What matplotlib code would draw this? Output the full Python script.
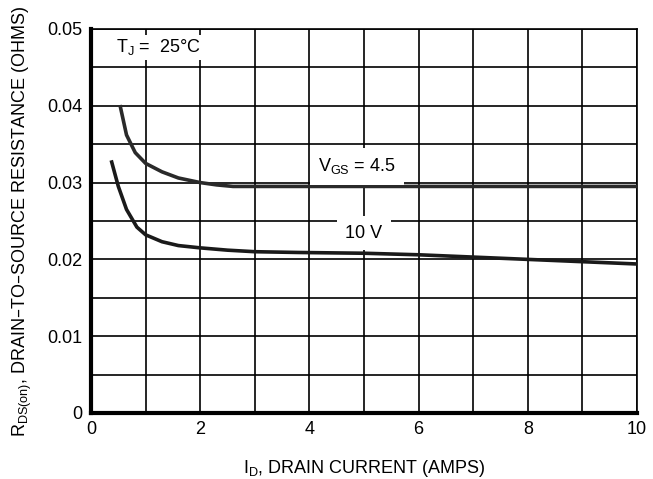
import matplotlib
matplotlib.use('Agg')
import matplotlib.pyplot as plt

plt.rcParams['font.family'] = ['Liberation Sans Narrow', 'Liberation Sans', 'DejaVu Sans']
plt.rcParams['mathtext.default'] = 'regular'

# VGS = 4.5 V curve
id_45 = [0.53, 0.65, 0.81, 1.0, 1.3, 1.6, 2.0, 2.3, 2.6, 3.0, 4.0, 6.0, 8.0, 10.0]
r_45 = [0.0401, 0.0362, 0.0339, 0.0325, 0.0314, 0.0306, 0.0300, 0.0297, 0.0295, 0.0295,
        0.0295, 0.0295, 0.0295, 0.0295]
# VGS = 10 V curve
id_10 = [0.37, 0.5, 0.65, 0.84, 1.0, 1.3, 1.6, 2.0, 2.5, 3.0, 3.8, 5.0, 6.0, 7.0, 8.0, 9.0, 10.0]
r_10 = [0.0329, 0.0295, 0.0265, 0.0242, 0.0232, 0.0223, 0.0218, 0.0215, 0.0212, 0.0210,
        0.0209, 0.0208, 0.0206, 0.0203, 0.0200, 0.0197, 0.0194]

fig = plt.figure(figsize=(6.53, 4.79), dpi=100)
ax = fig.add_axes([0.1394, 0.1378, 0.8361, 0.8017])

ax.plot(id_45, r_45, color='#2a2a2a', lw=2.6, solid_capstyle='butt', zorder=3)
ax.plot(id_10, r_10, color='#1a1a1a', lw=2.6, solid_capstyle='butt', zorder=3)

ax.set_xlim(0, 10)
ax.set_ylim(0, 0.05)
ax.set_xticks([0, 2, 4, 6, 8, 10])
ax.set_yticks([0, 0.01, 0.02, 0.03, 0.04, 0.05])
ax.set_yticklabels(['0', '0.01', '0.02', '0.03', '0.04', '0.05'])
ax.set_xticks(range(0, 11), minor=True)
ax.set_yticks([0.005 * i for i in range(11)], minor=True)
ax.grid(which='both', color='black', lw=1.2)
ax.tick_params(which='both', length=0, labelsize=13, pad=6)
ax.set_axisbelow(True)

for s in ['top', 'right']:
    ax.spines[s].set_linewidth(1.2)
ax.spines['left'].set_linewidth(3)
ax.spines['bottom'].set_linewidth(3)

ax.text(0.45, 0.0476, r'$T_J$ =  25°C', fontsize=13, va='center', ha='left',
        bbox=dict(facecolor='white', edgecolor='none', pad=2), zorder=4)
ax.text(4.87, 0.0321, r'$V_{GS}$ = 4.5', fontsize=13, va='center', ha='center',
        bbox=dict(facecolor='white', edgecolor='none', pad=6), zorder=4)
ax.text(5.0, 0.0234, '10 V', fontsize=13, va='center', ha='center',
        bbox=dict(facecolor='white', edgecolor='none', pad=6), zorder=4)

ax.set_xlabel(r'$I_D$, DRAIN CURRENT (AMPS)', fontsize=13, labelpad=14)
ax.set_ylabel(r'$R_{DS(on)}$, DRAIN–TO–SOURCE RESISTANCE (OHMS)', fontsize=13, labelpad=10)

fig.savefig('out.png', dpi=100)
